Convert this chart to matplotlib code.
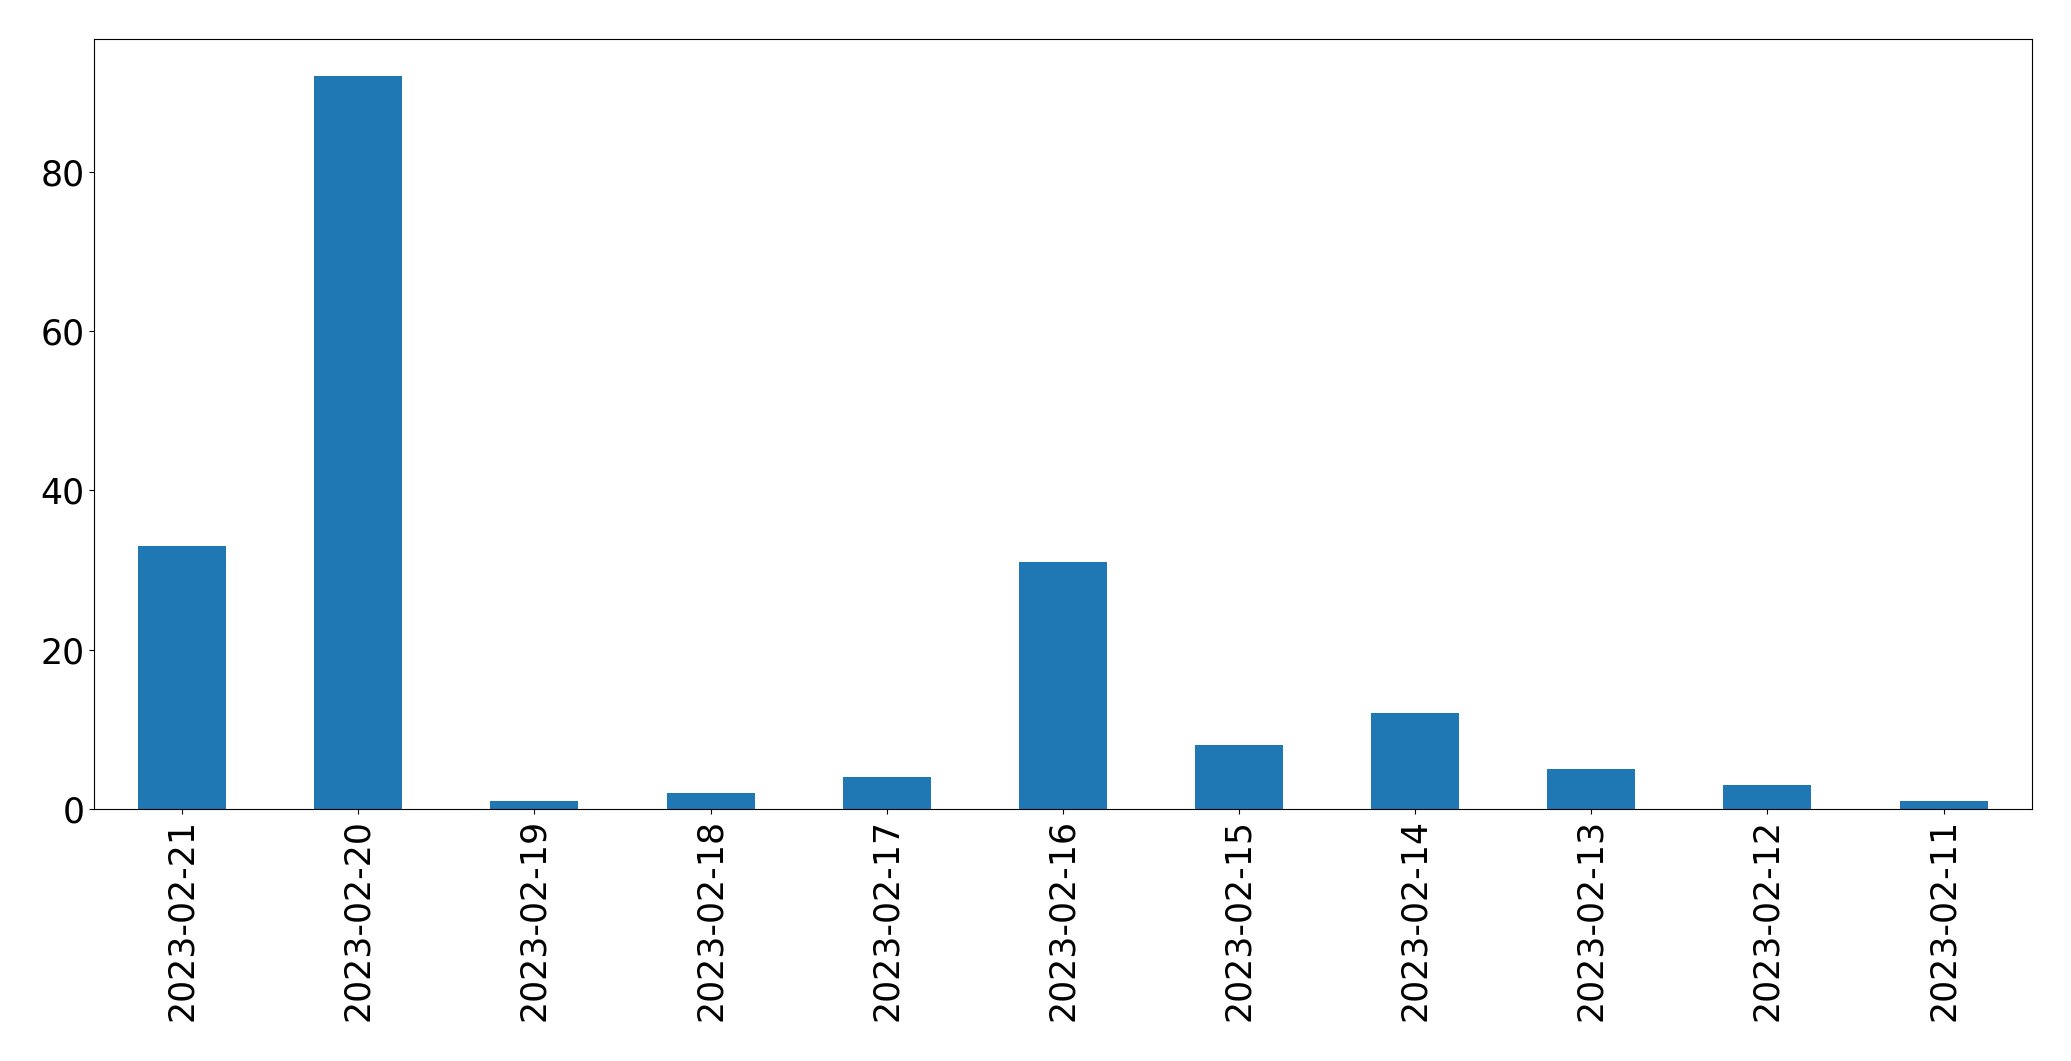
import matplotlib
matplotlib.use('Agg')
import matplotlib.pyplot as plt
import pandas as pd

DATES = ['2023-02-21', '2023-02-20', '2023-02-19', '2023-02-18', '2023-02-17',
         '2023-02-16', '2023-02-15', '2023-02-14', '2023-02-13', '2023-02-12',
         '2023-02-11']
COUNTS = [33, 92, 1, 2, 4, 31, 8, 12, 5, 3, 1]

counts = pd.Series(COUNTS, index=DATES)

fig, ax = plt.subplots(figsize=(20.71, 10.61), dpi=100)
counts.plot(kind='bar', ax=ax, fontsize=25)
fig.subplots_adjust(left=0.0454, right=0.981, top=0.963, bottom=0.2375)
fig.savefig('out.png', dpi=100)
